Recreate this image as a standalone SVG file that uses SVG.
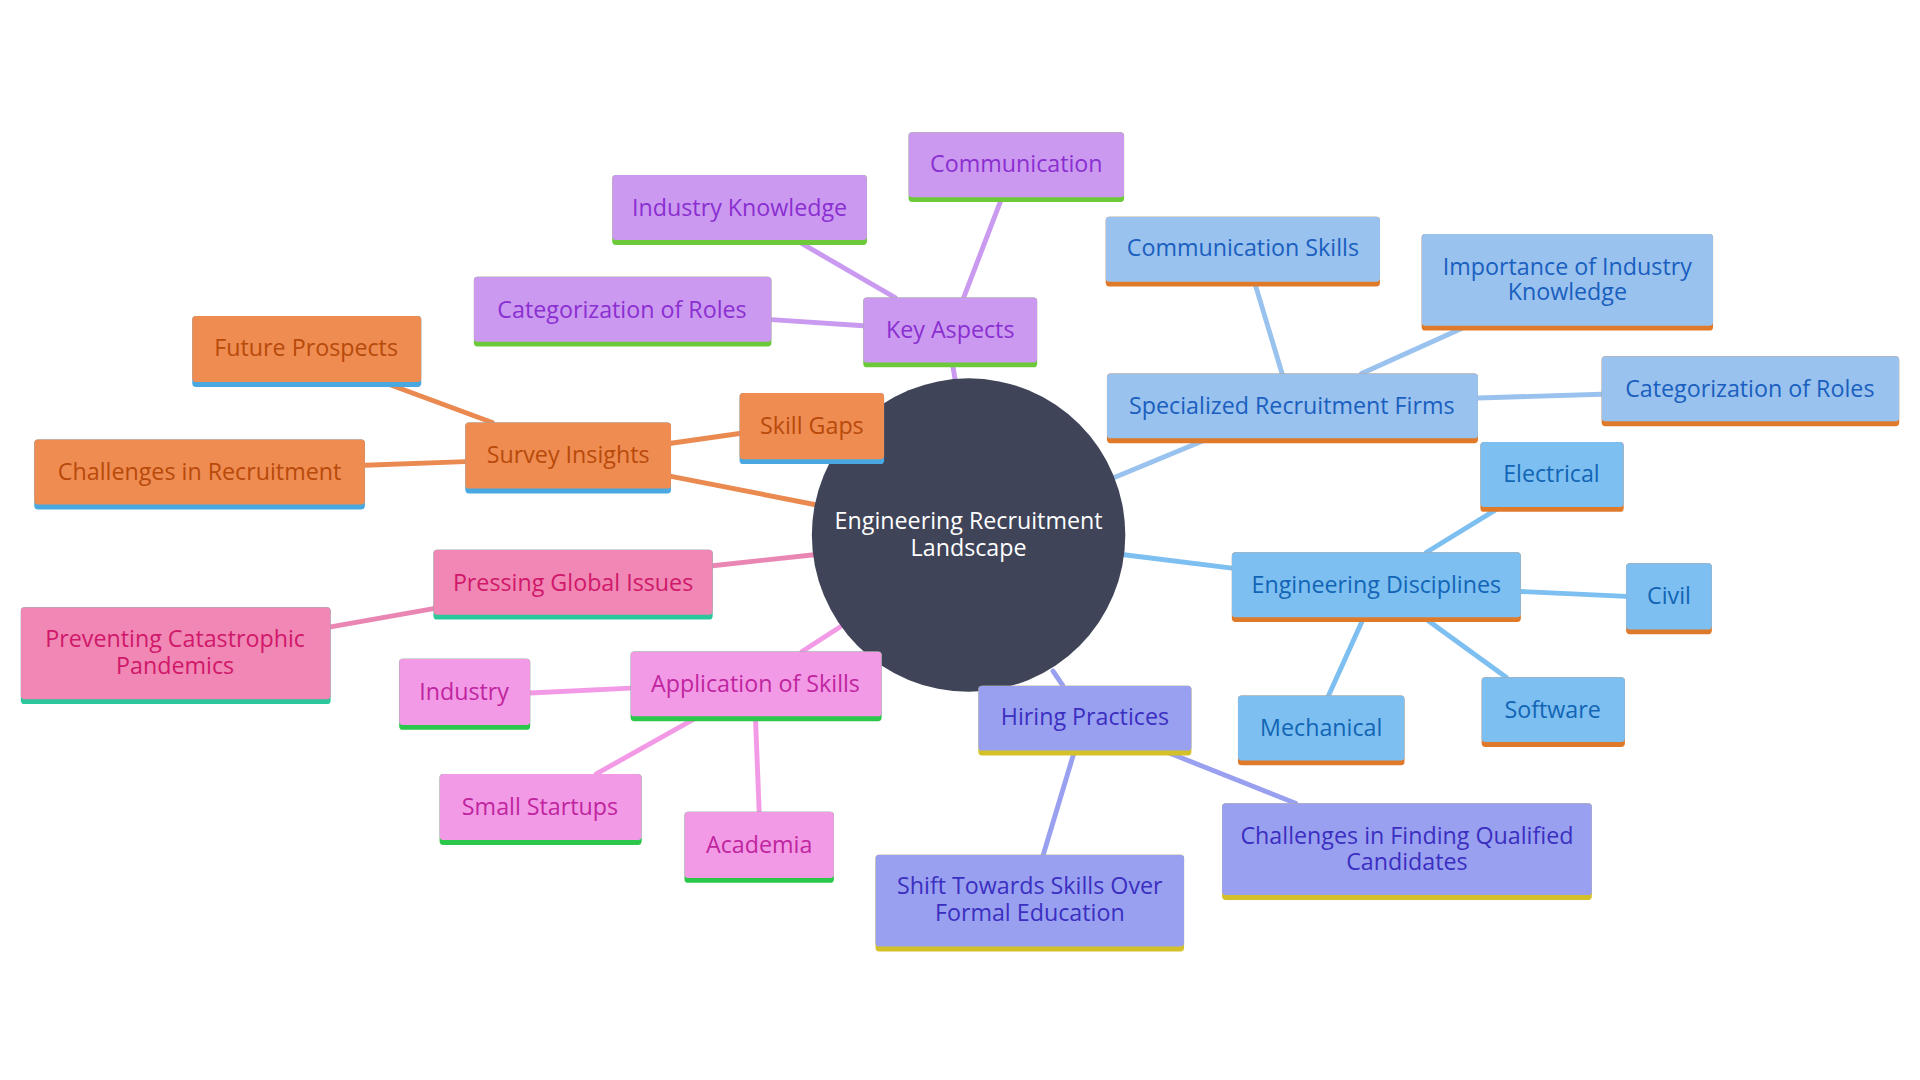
<svg xmlns="http://www.w3.org/2000/svg" width="1920" height="1080" viewBox="0 0 1920 1080">
<style>
text{font-family:"Open Sans","DejaVu Sans",sans-serif;font-size:19px;text-anchor:middle;dominant-baseline:central}
.e line{stroke-width:4;stroke-linecap:round}
.p rect.b{fill:#cc99f0}.p text{fill:#8a2fd0}.p rect.s{fill:#6cc93a}
.bl rect.b{fill:#99c2ee}.bl text{fill:#1a5fbf}.bl rect.s{fill:#e07a2b}
.sb rect.b{fill:#7dbff0}.sb text{fill:#1265b5}.sb rect.s{fill:#e07a2b}
.h rect.b{fill:#9aa0f0}.h text{fill:#3a2fc0}.h rect.s{fill:#d4c12a}
.a rect.b{fill:#f29ae6}.a text{fill:#c0259f}.a rect.s{fill:#2bc74a}
.g rect.b{fill:#f087b4}.g text{fill:#d0186a}.g rect.s{fill:#2bc79a}
.o rect.b{fill:#ee8c52}.o text{fill:#b84a0a}.o rect.s{fill:#4aa8e0}
</style>
<rect width="1920" height="1080" fill="#fff"/>
<g transform="scale(1.2245)">
<g class="e" id="connectors">
<g stroke="#c99af0"><line x1="780" y1="310" x2="778" y2="298"/><line x1="787" y1="243" x2="818" y2="162"/><line x1="731" y1="243" x2="655" y2="199"/><line x1="705" y1="266" x2="630" y2="261"/></g>
<g stroke="#99c2ee"><line x1="910" y1="390" x2="985" y2="359"/><line x1="1047" y1="305" x2="1025" y2="232"/><line x1="1112" y1="305" x2="1194" y2="268"/><line x1="1207" y1="325" x2="1308" y2="322"/></g>
<g stroke="#7dbff0"><line x1="918" y1="453" x2="1006" y2="464"/><line x1="1165" y1="451" x2="1222" y2="416"/><line x1="1242" y1="483" x2="1328" y2="487"/><line x1="1165" y1="506" x2="1230" y2="553"/><line x1="1113" y1="506" x2="1085" y2="568"/></g>
<g stroke="#9aa0f0"><line x1="860" y1="548" x2="868" y2="560"/><line x1="877" y1="615" x2="852" y2="698"/><line x1="955" y1="615" x2="1058" y2="656"/></g>
<g stroke="#f29ae6"><line x1="686" y1="512" x2="655" y2="532"/><line x1="515" y1="562" x2="433" y2="566"/><line x1="567" y1="587" x2="487" y2="632"/><line x1="617" y1="587" x2="620" y2="663"/></g>
<g stroke="#ea86b3"><line x1="665" y1="453" x2="582" y2="462"/><line x1="354" y1="497" x2="270" y2="512"/></g>
<g stroke="#ea8a50"><line x1="665" y1="412" x2="548" y2="389"/><line x1="402" y1="345" x2="318" y2="314"/><line x1="380" y1="377" x2="298" y2="380"/><line x1="548" y1="362" x2="604" y2="354"/></g>
</g>
<g id="center"><circle cx="791" cy="437" r="128" fill="#3f4458"/><text x="791" y="425" fill="#fff">Engineering Recruitment</text><text x="791" y="447" fill="#fff">Landscape</text></g>

<g id="key-aspects" class="p"><rect class="s" x="705" y="243" width="142" height="57" rx="3"/><rect class="b" x="705" y="243" width="142" height="53" rx="3"/><text x="776" y="269">Key Aspects</text></g>
<g id="communication" class="p"><rect class="s" x="742" y="108" width="176" height="57" rx="3"/><rect class="b" x="742" y="108" width="176" height="53" rx="3"/><text x="830" y="133">Communication</text></g>
<g id="industry-knowledge" class="p"><rect class="s" x="500" y="143" width="208" height="57" rx="3"/><rect class="b" x="500" y="143" width="208" height="53" rx="3"/><text x="604" y="169">Industry Knowledge</text></g>
<g id="cat-roles-p" class="p"><rect class="s" x="387" y="226" width="243" height="57" rx="3"/><rect class="b" x="387" y="226" width="243" height="53" rx="3"/><text x="508" y="252">Categorization of Roles</text></g>

<g id="specialized" class="bl"><rect class="s" x="904" y="305" width="303" height="57" rx="3"/><rect class="b" x="904" y="305" width="303" height="53" rx="3"/><text x="1055" y="331">Specialized Recruitment Firms</text></g>
<g id="comm-skills" class="bl"><rect class="s" x="903" y="177" width="224" height="57" rx="3"/><rect class="b" x="903" y="177" width="224" height="53" rx="3"/><text x="1015" y="202">Communication Skills</text></g>
<g id="importance" class="bl"><rect class="s" x="1161" y="191" width="238" height="79" rx="3"/><rect class="b" x="1161" y="191" width="238" height="75" rx="3"/><text x="1280" y="217">Importance of Industry</text><text x="1280" y="238">Knowledge</text></g>
<g id="cat-roles-b" class="bl"><rect class="s" x="1308" y="291" width="243" height="57" rx="3"/><rect class="b" x="1308" y="291" width="243" height="53" rx="3"/><text x="1429" y="317">Categorization of Roles</text></g>

<g id="disciplines" class="sb"><rect class="s" x="1006" y="451" width="236" height="57" rx="3"/><rect class="b" x="1006" y="451" width="236" height="53" rx="3"/><text x="1124" y="477">Engineering Disciplines</text></g>
<g id="electrical" class="sb"><rect class="s" x="1209" y="361" width="117" height="57" rx="3"/><rect class="b" x="1209" y="361" width="117" height="53" rx="3"/><text x="1267" y="386">Electrical</text></g>
<g id="civil" class="sb"><rect class="s" x="1328" y="460" width="70" height="58" rx="3"/><rect class="b" x="1328" y="460" width="70" height="54" rx="3"/><text x="1363" y="486">Civil</text></g>
<g id="software" class="sb"><rect class="s" x="1210" y="553" width="117" height="57" rx="3"/><rect class="b" x="1210" y="553" width="117" height="53" rx="3"/><text x="1268" y="579">Software</text></g>
<g id="mechanical" class="sb"><rect class="s" x="1011" y="568" width="136" height="57" rx="3"/><rect class="b" x="1011" y="568" width="136" height="53" rx="3"/><text x="1079" y="594">Mechanical</text></g>

<g id="hiring" class="h"><rect class="s" x="799" y="560" width="174" height="57" rx="3"/><rect class="b" x="799" y="560" width="174" height="53" rx="3"/><text x="886" y="585">Hiring Practices</text></g>
<g id="shift" class="h"><rect class="s" x="715" y="698" width="252" height="79" rx="3"/><rect class="b" x="715" y="698" width="252" height="75" rx="3"/><text x="841" y="723">Shift Towards Skills Over</text><text x="841" y="745">Formal Education</text></g>
<g id="challenges-finding" class="h"><rect class="s" x="998" y="656" width="302" height="79" rx="3"/><rect class="b" x="998" y="656" width="302" height="75" rx="3"/><text x="1149" y="682">Challenges in Finding Qualified</text><text x="1149" y="703">Candidates</text></g>

<g id="application" class="a"><rect class="s" x="515" y="532" width="205" height="57" rx="3"/><rect class="b" x="515" y="532" width="205" height="53" rx="3"/><text x="617" y="558">Application of Skills</text></g>
<g id="industry" class="a"><rect class="s" x="326" y="538" width="107" height="58" rx="3"/><rect class="b" x="326" y="538" width="107" height="54" rx="3"/><text x="379" y="564">Industry</text></g>
<g id="startups" class="a"><rect class="s" x="359" y="632" width="165" height="58" rx="3"/><rect class="b" x="359" y="632" width="165" height="54" rx="3"/><text x="441" y="658">Small Startups</text></g>
<g id="academia" class="a"><rect class="s" x="559" y="663" width="122" height="58" rx="3"/><rect class="b" x="559" y="663" width="122" height="54" rx="3"/><text x="620" y="689">Academia</text></g>

<g id="pressing" class="g"><rect class="s" x="354" y="449" width="228" height="57" rx="3"/><rect class="b" x="354" y="449" width="228" height="53" rx="3"/><text x="468" y="475">Pressing Global Issues</text></g>
<g id="pandemics" class="g"><rect class="s" x="17" y="496" width="253" height="79" rx="3"/><rect class="b" x="17" y="496" width="253" height="75" rx="3"/><text x="143" y="521">Preventing Catastrophic</text><text x="143" y="543">Pandemics</text></g>

<g id="survey" class="o"><rect class="s" x="380" y="345" width="168" height="58" rx="3"/><rect class="b" x="380" y="345" width="168" height="54" rx="3"/><text x="464" y="371">Survey Insights</text></g>
<g id="future" class="o"><rect class="s" x="157" y="258" width="187" height="58" rx="3"/><rect class="b" x="157" y="258" width="187" height="54" rx="3"/><text x="250" y="283">Future Prospects</text></g>
<g id="challenges-recruitment" class="o"><rect class="s" x="28" y="359" width="270" height="57" rx="3"/><rect class="b" x="28" y="359" width="270" height="53" rx="3"/><text x="163" y="385">Challenges in Recruitment</text></g>
<g id="skill-gaps" class="o"><rect class="s" x="604" y="321" width="118" height="58" rx="3"/><rect class="b" x="604" y="321" width="118" height="54" rx="3"/><text x="663" y="347">Skill Gaps</text></g>
</g>
</svg>
